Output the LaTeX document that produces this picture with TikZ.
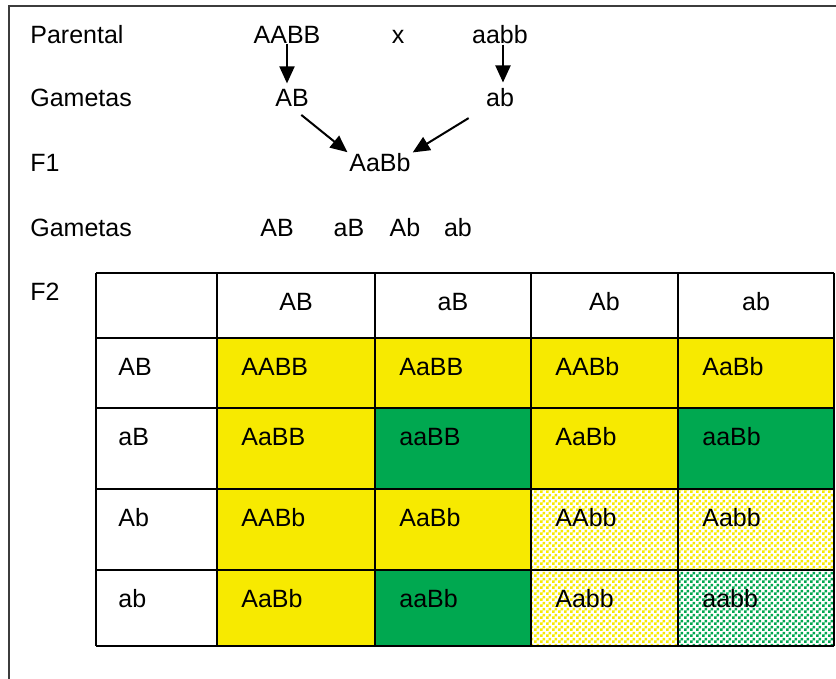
\documentclass[tikz,border=0pt]{standalone}
\usepackage{fontspec}
\setmainfont{Liberation Sans}
\usetikzlibrary{arrows.meta,patterns.meta}
\definecolor{genyellow}{RGB}{247,234,0}
\definecolor{gengreen}{RGB}{0,168,80}
\definecolor{framegray}{RGB}{60,60,60}
\tikzdeclarepattern{
  name=finecheck,
  type=uncolored,
  bottom left={(0pt,0pt)},
  top right={(3pt,3pt)},
  tile size={(3pt,3pt)},
  code={
    \pgfpathrectangle{\pgfpointorigin}{\pgfqpoint{1.5pt}{1.5pt}}
    \pgfpathrectangle{\pgfqpoint{1.5pt}{1.5pt}}{\pgfqpoint{1.5pt}{1.5pt}}
    \pgfusepath{fill}
  }
}

\begin{document}
\begin{tikzpicture}[x=0.5pt,y=-0.5pt,font=\fontsize{12.5}{15}\selectfont,
                    dom/.style={fill=genyellow},
                    rec/.style={fill=gengreen},
                    domhatch/.style={preaction={fill=white},pattern=finecheck,pattern color=genyellow},
                    rechatch/.style={preaction={fill=white},pattern=finecheck,pattern color=gengreen}]
    \tikzstyle{lbl}=[inner sep=0pt, anchor=base west]
    \tikzstyle{gen}=[inner sep=0pt, anchor=base]
    \tikzstyle{connect}=[-{Triangle[length=8.5pt,width=7.5pt]}, line width=1pt]
    \tikzstyle{grid}=[line width=1.2pt, black]

      \clip (0,0) rectangle (836,679);
      \draw[framegray, line width=1.2pt] (9,6) rectangle (870,720);

      % row labels
      \node[lbl] (lpar) at (30,44) {Parental};
      \node[lbl] (lgam1) at (30,107) {Gametas};
      \node[lbl] (lf1) at (30,172) {F1};
      \node[lbl] (lgam2) at (30,237) {Gametas};
      \node[lbl] (lf2) at (30,301) {F2};

      % crossing
      \node[gen] (par1) at (287,44) {AABB};
      \node[gen] (cross) at (398,44) {x};
      \node[gen] (par2) at (500,44) {aabb};
      \node[gen] (gam1) at (292,107) {AB};
      \node[gen] (gam2) at (500,107) {ab};
      \node[gen] (f1) at (380,172) {AaBb};
      \node[gen] (ga) at (277,237) {AB};
      \node[gen] (gb) at (349,237) {aB};
      \node[gen] (gc) at (405,237) {Ab};
      \node[gen] (gd) at (458,237) {ab};
      \path
        (par1.south) edge [connect, shorten >=3pt] (par1.south |- gam1.north)
        ([xshift=1.5pt]par2.south) edge [connect, shorten >=3pt] ([xshift=1.5pt]par2.south |- gam2.north)
        (gam1.south) edge [connect, shorten <=6pt, shorten >=1pt] (f1.north west)
        (gam2.south west) edge [connect, shorten <=10pt, shorten >=1pt] (f1.north east);

      % Punnett square
      \def\colx{{96,217,375,531,678,834}}
      \def\rowy{{273,338,408,489,570,646}}
      \foreach \i/\j/\g/\f in {1/1/AABB/dom, 1/2/AaBB/dom, 1/3/AABb/dom, 1/4/AaBb/dom,
                               2/1/AaBB/dom, 2/2/aaBB/rec, 2/3/AaBb/dom, 2/4/aaBb/rec,
                               3/1/AABb/dom, 3/2/AaBb/dom, 3/3/AAbb/domhatch, 3/4/Aabb/domhatch,
                               4/1/AaBb/dom, 4/2/aaBb/rec, 4/3/Aabb/domhatch, 4/4/aabb/rechatch}
      {
        \pgfmathsetmacro\xa{\colx[\j]}
        \pgfmathsetmacro\xb{\colx[\j+1]}
        \pgfmathsetmacro\ya{\rowy[\i]}
        \pgfmathsetmacro\yb{\rowy[\i+1]}
        \path[\f] (\xa,\ya) rectangle (\xb,\yb);
        \node[lbl] (c\i\j) at (\xa+24,\ya+37.5) {\g};
      }
      \foreach \g [count=\j] in {AB,aB,Ab,ab}
      {
        \pgfmathsetmacro\xa{\colx[\j]}
        \pgfmathsetmacro\xb{\colx[\j+1]}
        \node[gen] (h\j) at ({(\xa+\xb)/2},310.5) {\g};
        \pgfmathsetmacro\ya{\rowy[\j]}
        \node[lbl] (r\j) at (118,\ya+37.5) {\g};
      }
      \foreach \k in {0,...,5}
      {
        \pgfmathsetmacro\xa{\colx[\k]}
        \pgfmathsetmacro\ya{\rowy[\k]}
        \draw[grid] (\xa,273) -- (\xa,646);
        \draw[grid] (96,\ya) -- (834,\ya);
      }
\end{tikzpicture}
\end{document}
